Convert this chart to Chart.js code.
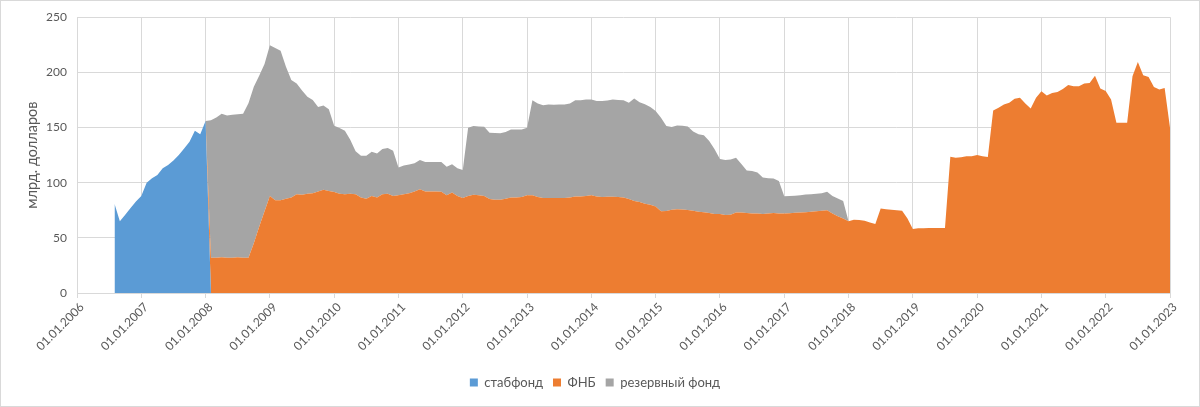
<!DOCTYPE html>
<html>
<head>
<meta charset="utf-8">
<script src="https://cdn.jsdelivr.net/npm/chart.js@4.4.0/dist/chart.umd.min.js"></script>
<style>
html, body { margin: 0; padding: 0; background: #fff; }
#wrap { width: 1200px; height: 407px; }
</style>
</head>
<body>
<div id="wrap"><canvas id="canvas" width="1200" height="407"></canvas></div>
<script>
// monthly values, bn USD, on the 1st of each month
var firstYear = 2006, firstMonth = 8;   // first point 01.08.2006

// стабфонд: 01.08.2006 .. 01.01.2008
var stabfond = [81, 65, 71, 77, 83,
    88, 100, 104, 107, 113, 116, 120, 125, 131, 137, 147, 144,
    156];

// ФНБ: 01.02.2008 .. 01.01.2023
var fnb = [32, 32, 32.5, 32, 32, 32.5, 32, 32, 45, 60, 74,
    88, 84, 84, 85.5, 86.5, 89.5, 89, 90, 90.5, 92, 93.5, 92.5,
    91.5, 90, 89.5, 90, 89.5, 86.5, 85.5, 88, 86.5, 89.5, 90, 88,
    88.5, 89.5, 90.5, 92, 94, 92, 92, 92, 91.7, 88.7, 91, 88,
    86, 88, 89, 88.5, 88, 85.1, 84.5, 84.5, 85.5, 86.6, 86.6, 87,
    88.5, 88.7, 87, 86, 86, 86, 86, 86, 86.5, 87.5, 87.5, 88,
    88.5, 87.5, 87, 87.3, 87.2, 87, 86.6, 85.1, 83.5, 82.5, 81, 80,
    78.3, 74, 74.3, 75.5, 76, 75.8, 75.3, 74.5, 73.7, 73.3, 72.5, 71.7,
    71.5, 70.6, 71, 73, 73, 72.5, 72, 72, 71.5, 72, 72.5, 72,
    72, 72.3, 72.7, 73, 73.3, 73.6, 74, 74.5, 75, 72, 69.5, 67.5,
    65, 66.3, 66.2, 65.5, 63.8, 62.5, 76.6, 76, 75.4, 75.1, 74.5, 67.6,
    58, 58.6, 58.8, 58.9, 58.9, 58.9, 59, 123.6, 122.7, 123, 123.9, 124,
    125.1, 123.9, 123.3, 165.4, 167.9, 170.9, 172.4, 176, 176.9, 171.8, 167.3, 176.9,
    182.8, 179, 181.4, 182.2, 185, 188.5, 187.3, 187.3, 189.8, 190.4, 197, 185.3,
    183, 175.4, 154.3, 154.3, 154.3, 196.4, 209.4, 197.3, 195.8, 186.8, 184.4, 185.9,
    149.8];

// резервный фонд: 01.02.2008 .. 01.01.2018 (merged into ФНБ after that)
var reserve = [124.5, 127, 130, 129, 129.5, 129.5, 130.5, 140, 142, 137, 133.5,
    136.5, 138, 135.5, 119.5, 106.5, 100.5, 94.5, 88, 84.5, 76.5, 76.5, 74,
    60, 59.5, 57.5, 49, 39, 38, 39, 40, 40, 41, 41.5, 41,
    25.2, 26, 26, 25.6, 26.6, 26.8, 26.8, 26.8, 27.1, 25.8, 25.7, 25.1,
    25.6, 61.8, 62.3, 62.5, 62.7, 60.2, 60.5, 60.2, 60.4, 61.7, 61.7, 61.3,
    61.3, 86.1, 84.8, 84.3, 84.9, 84.6, 84.9, 84.9, 85.3, 87.3, 87.3, 87.4,
    86.9, 86.5, 87, 87.2, 88.2, 88, 88.2, 87.3, 92.8, 90.5, 90, 88.5,
    86.7, 84.8, 77, 74.9, 75.9, 75.7, 75.7, 72, 70.1, 69.6, 65.2, 58.5,
    50, 50, 50, 49.7, 44, 38.5, 38.5, 37.2, 33.2, 32.1, 31.2, 29.6,
    15.7, 15.7, 15.4, 15.6, 16, 16, 16, 16, 16.7, 16, 16.2, 16,
    0];

var seriesNames = ['стабфонд', 'ФНБ', 'резервный фонд'];
var seriesColors = ['#5B9BD5', '#ED7D31', '#A5A5A5'];
var tickLabels = ['01.01.2006', '01.01.2007', '01.01.2008', '01.01.2009', '01.01.2010',
    '01.01.2011', '01.01.2012', '01.01.2013', '01.01.2014', '01.01.2015', '01.01.2016',
    '01.01.2017', '01.01.2018', '01.01.2019', '01.01.2020', '01.01.2021', '01.01.2022',
    '01.01.2023'];

var pointCount = stabfond.length + fnb.length;

function monthX(i){
    return firstYear + (firstMonth - 1 + i) / 12;
}

// all series on the same monthly grid so that the areas stack
function toPoints(values, offset){
    var points = [];
    for (var i = 0; i < pointCount; i++) {
        var v = values[i - offset];
        points.push({x: monthX(i), y: (v === undefined) ? 0 : v});
    }
    return points;
}

var seriesData = [
    toPoints(stabfond, 0),
    toPoints(fnb, stabfond.length),
    toPoints(reserve, stabfond.length)
];

var frame = {
    id: 'frame',
    beforeDraw: function(chart){
        var c = chart.ctx;
        c.save();
        c.fillStyle = '#ffffff';
        c.fillRect(0, 0, chart.width, chart.height);
        c.restore();
    },
    afterDraw: function(chart){
        var c = chart.ctx;
        c.save();
        c.strokeStyle = '#D9D9D9';
        c.lineWidth = 1;
        c.strokeRect(0.5, 0.5, chart.width - 1, chart.height - 1);
        c.restore();
    }
};

Chart.defaults.font.family = 'Lato, "Liberation Sans", sans-serif';
Chart.defaults.font.size = 12;
Chart.defaults.color = '#595959';

var datasets = [];
seriesNames.forEach(function(name, i){
    datasets.push({
        label: name,
        data: seriesData[i],
        backgroundColor: seriesColors[i],
        borderColor: seriesColors[i],
        borderWidth: 0,
        pointRadius: 0,
        tension: 0,
        fill: (i == 0) ? 'origin' : '-1'
    });
});

var ctx = document.getElementById('canvas').getContext('2d');
var chart = new Chart(ctx, {
    type: 'line',
    data: { datasets: datasets },
    options: {
        responsive: false,
        animation: false,
        events: [],
        layout: { padding: { left: 20, right: 30, top: 17, bottom: 8 } },
        plugins: {
            legend: {
                position: 'bottom',
                labels: { boxWidth: 8, boxHeight: 8, padding: 10, font: { size: 13 } }
            },
            tooltip: { enabled: false }
        },
        scales: {
            x: {
                type: 'linear',
                min: 2006,
                max: 2023,
                ticks: {
                    stepSize: 1,
                    autoSkip: false,
                    minRotation: 45,
                    maxRotation: 45,
                    padding: 2,
                    labelOffset: 5,
                    callback: function(value, index){ return tickLabels[index]; }
                },
                grid: { color: '#D9D9D9', tickLength: 5 },
                border: { color: '#D9D9D9' },
                afterFit: function(scale){ scale.height = 73; }
            },
            y: {
                stacked: true,
                min: 0,
                max: 250,
                ticks: { stepSize: 50, padding: 10 },
                grid: { color: '#D9D9D9', drawTicks: false },
                border: { display: false },
                title: { display: true, text: 'млрд. долларов', font: { size: 14.5 } },
                afterFit: function(scale){ scale.width = 57; }
            }
        }
    },
    plugins: [frame]
});
</script>
</body>
</html>
